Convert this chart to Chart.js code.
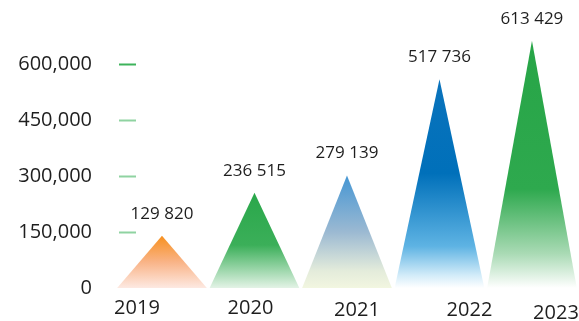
<!DOCTYPE html>
<html>
<head>
<meta charset="utf-8">
<title>Growth 2019-2023</title>
<script src="https://cdn.jsdelivr.net/npm/chart.js@4.4.0/dist/chart.umd.min.js"></script>
<style>
  html, body { margin: 0; padding: 0; background: #fff; }
  #wrap { width: 579px; height: 321px; }
</style>
</head>
<body>
<div id="wrap"><canvas id="growthChart"></canvas></div>
<script>
const years = ['2019', '2020', '2021', '2022', '2023'];
const totals = [129820, 236515, 279139, 517736, 613429];
const axisTicks = [0, 150000, 300000, 450000, 600000];

// gradient stops for each pyramid, tip to base
const fills = [
  [[0, '#F7901E'], [0.5, '#F9B386'], [1, '#FDE9E2']],
  [[0, '#29A74A'], [0.55, '#3BAF59'], [1, '#E3F3E6']],
  [[0, '#4596D3'], [0.5, '#9BB9D2'], [0.85, '#E4ECDB'], [1, '#F2F6E0']],
  [[0, '#0A73BC'], [0.45, '#0070BA'], [0.8, '#5EB3E3'], [0.94, '#D3ECF9'], [1, '#FFFFFF']],
  [[0, '#27A547'], [0.6, '#2EA94E'], [0.86, '#A9DAB4'], [1, '#FFFFFF']]
];

// small nudges for the year captions under each pyramid
const captionShift = [[-25, 0], [-4, 0], [10, 2], [30, 2], [24, 5]];

const withSpaces = v => String(v).replace(/\B(?=(\d{3})+(?!\d))/g, ' ');

const pyramids = {
  id: 'pyramids',
  afterDatasetsDraw(chart) {
    const ctx = chart.ctx;
    const meta = chart.getDatasetMeta(0);
    meta.data.forEach((bar, i) => {
      const half = bar.width / 2;
      const grad = ctx.createLinearGradient(0, bar.y, 0, bar.base);
      fills[i].forEach(([stop, col]) => grad.addColorStop(stop, col));
      ctx.save();
      ctx.beginPath();
      ctx.moveTo(bar.x - half, bar.base);
      ctx.lineTo(bar.x, bar.y);
      ctx.lineTo(bar.x + half, bar.base);
      ctx.closePath();
      ctx.fillStyle = grad;
      ctx.fill();

      ctx.fillStyle = '#1e1e1e';
      ctx.textAlign = 'center';
      ctx.textBaseline = 'middle';
      ctx.font = '17px "Open Sans"';
      ctx.fillText(withSpaces(totals[i]), bar.x, bar.y - 22);

      const [dx, dy] = captionShift[i];
      ctx.font = '20px "Open Sans"';
      ctx.fillText(years[i], bar.x + dx, bar.base + 20 + dy);
      ctx.restore();
    });
  }
};

new Chart(document.getElementById('growthChart'), {
  type: 'bar',
  data: {
    datasets: [{
      data: years.map((y, i) => ({ x: i, y: totals[i] })),
      yAxisID: 'yBars',
      backgroundColor: 'rgba(0,0,0,0)',
      borderWidth: 0,
      categoryPercentage: 1,
      barPercentage: 0.97
    }]
  },
  options: {
    responsive: true,
    maintainAspectRatio: false,
    animation: false,
    layout: { padding: { top: 20, bottom: 33, left: 0, right: 3 } },
    plugins: {
      legend: { display: false },
      tooltip: { enabled: false }
    },
    scales: {
      x: {
        type: 'linear',
        display: false,
        offset: false,
        min: -0.281,
        max: 4.476,
        // one tick per year so the bar width follows the year spacing
        afterBuildTicks: s => { s.ticks = years.map((y, i) => ({ value: i })); }
      },
      y: {
        position: 'left',
        min: 0,
        max: 719000,
        afterBuildTicks: s => { s.ticks = axisTicks.map(v => ({ value: v })); },
        afterFit: s => {
          s.width = 136;
          s.paddingTop = 0;
          s.paddingBottom = 0;
        },
        border: { display: false },
        grid: {
          drawOnChartArea: false,
          drawTicks: true,
          tickLength: 17,
          tickWidth: 2,
          tickColor: c => c.tick.value === 0 ? 'rgba(0,0,0,0)'
            : (c.tick.value === 600000 ? '#3DB35B' : '#8FD3A1')
        },
        ticks: {
          padding: 27,
          color: '#1e1e1e',
          font: { family: 'Open Sans', size: 20 },
          callback: v => v.toLocaleString('en-US')
        }
      },
      yBars: { display: false, min: 0, max: 665000 }
    }
  },
  plugins: [pyramids]
});
</script>
</body>
</html>
